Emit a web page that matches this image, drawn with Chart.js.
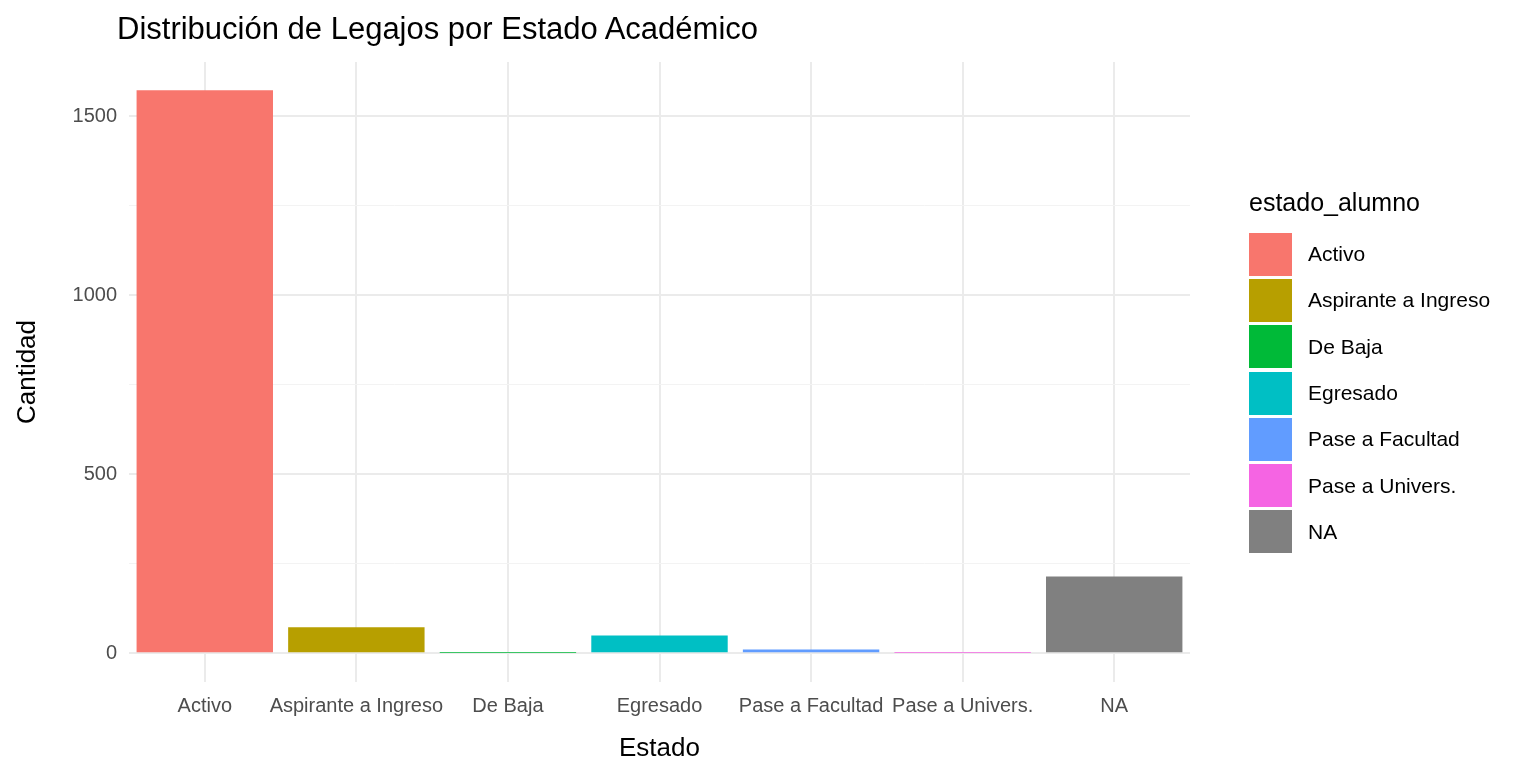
<!DOCTYPE html>
<html>
<head>
<meta charset="utf-8">
<script src="https://cdn.jsdelivr.net/npm/chart.js@4"></script>
<style>
body { margin:0; background:#fff; font-family: Arial, "Liberation Sans", sans-serif; }
#wrap { position:relative; width:1536px; height:768px; }
#title { position:absolute; left:117px; top:11px; font-size:31px; color:#000; }
#legend { position:absolute; left:1249px; top:188px; }
#legend .t { font-size:25px; margin-bottom:14px; }
#legend .row { display:flex; align-items:center; height:46.3px; font-size:21px; }
#legend .sw { width:43px; height:43px; margin-right:16px; }
</style>
</head>
<body>
<div id="wrap">
  <canvas id="chart" width="1536" height="768"></canvas>
  <div id="title">Distribución de Legajos por Estado Académico</div>
  <div id="legend"><div class="t">estado_alumno</div></div>
</div>
<script>
const categorias = ['Activo', 'Aspirante a Ingreso', 'De Baja', 'Egresado', 'Pase a Facultad', 'Pase a Univers.', 'NA'];
const cantidades = [1573, 73, 1, 50, 11, 1, 215];
const colores = ['#F8766D', '#B79F00', '#00BA38', '#00BFC4', '#619CFF', '#F564E3', '#808080'];

const legend = document.getElementById('legend');
categorias.forEach((c, i) => {
    const row = document.createElement('div');
    row.className = 'row';
    row.innerHTML = '<div class="sw" style="background:' + colores[i] + '"></div>' + c;
    legend.appendChild(row);
});

new Chart(document.getElementById('chart'), {
    type: 'bar',
    data: {
        labels: categorias,
        datasets: [{ data: cantidades, backgroundColor: colores, barPercentage: 0.9, categoryPercentage: 1 }]
    },
    options: {
        responsive: false,
        animation: false,
        layout: { padding: { left: 8, right: 346, top: 62, bottom: 0 } },
        plugins: { legend: { display: false }, tooltip: { enabled: false } },
        scales: {
            x: {
                afterFit: axis => { axis.height = 86; },
                grid: { color: '#ebebeb', lineWidth: 2, offset: false, drawTicks: false },
                border: { display: false },
                ticks: { color: '#4d4d4d', font: { size: 20 }, padding: 12, maxRotation: 0, autoSkip: false },
                title: { display: true, text: 'Estado', color: '#000', font: { size: 26 }, padding: { top: 0 } }
            },
            y: {
                min: -80, max: 1652,
                afterFit: axis => { axis.width = 121; },
                grid: { color: ctx => ctx.tick.value % 500 === 0 ? '#ebebeb' : '#f3f3f3', lineWidth: ctx => ctx.tick.value % 500 === 0 ? 2 : 1, drawTicks: false },
                border: { display: false },
                afterBuildTicks: axis => { axis.ticks = [0, 250, 500, 750, 1000, 1250, 1500].map(v => ({ value: v })); },
                ticks: { color: '#4d4d4d', font: { size: 20 }, padding: 12, callback: v => v % 500 === 0 ? v : '' },
                title: { display: true, text: 'Cantidad', color: '#000', font: { size: 26 } }
            }
        }
    }
});
</script>
</body>
</html>
